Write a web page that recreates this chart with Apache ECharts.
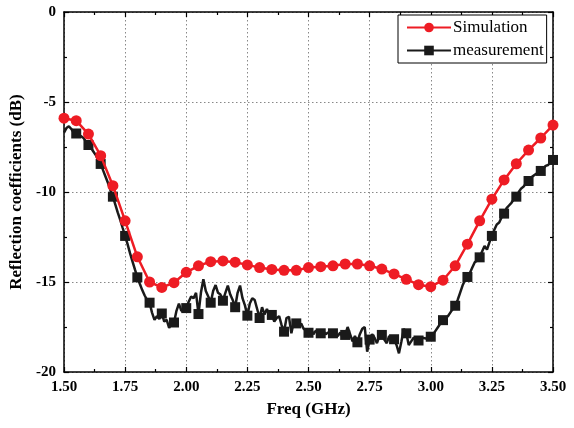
<!DOCTYPE html>
<html>
<head>
<meta charset="utf-8">
<script src="https://cdn.jsdelivr.net/npm/echarts@6/dist/echarts.min.js"></script>
<style>html,body{margin:0;padding:0;background:#fff}#c{width:574px;height:428px}</style>
</head>
<body>
<div id="c"></div>
<script>
// Simulation: 1.50 .. 3.50 GHz, step 0.05
var simFreq = [1.50,1.55,1.60,1.65,1.70,1.75,1.80,1.85,1.90,1.95,2.00,2.05,2.10,2.15,2.20,2.25,2.30,2.35,2.40,2.45,2.50,2.55,2.60,2.65,2.70,2.75,2.80,2.85,2.90,2.95,3.00,3.05,3.10,3.15,3.20,3.25,3.30,3.35,3.40,3.45,3.50];
var simValues = [-5.9,-6.04,-6.78,-7.98,-9.65,-11.6,-13.6,-15.0,-15.3,-15.04,-14.46,-14.1,-13.87,-13.83,-13.9,-14.05,-14.2,-14.3,-14.35,-14.35,-14.2,-14.15,-14.1,-14.0,-14.0,-14.1,-14.28,-14.55,-14.85,-15.15,-15.26,-14.9,-14.1,-12.9,-11.6,-10.4,-9.33,-8.43,-7.67,-7.0,-6.28];

// Measurement: 1.50 .. 3.50 GHz, step 0.01 (markers every 0.05 from 1.55)
var measStart = 1.50, measStep = 0.01, measMarkerEvery = 5;
var measValues = [
-6.7,-6.45,-6.35,-6.5,-6.7,-6.75,
-6.85,-6.9,-7.0,-7.2,-7.39,
-7.55,-7.75,-7.95,-8.2,-8.44,
-8.8,-9.15,-9.5,-9.9,-10.26,
-10.7,-11.15,-11.55,-12.0,-12.44,
-12.9,-13.4,-13.85,-14.3,-14.74,
-15.1,-15.45,-15.75,-16.0,-16.15,
-16.7,-17.1,-16.9,-17.05,-16.75,
-17.2,-17.1,-17.55,-17.3,-17.25,
-16.6,-16.2,-16.6,-16.55,-16.45,
-16.1,-15.8,-15.9,-15.6,-16.78,
-15.6,-14.85,-15.5,-15.8,-16.15,
-15.5,-15.17,-15.6,-15.7,-16.04,
-15.6,-15.2,-15.7,-16.0,-16.4,
-15.6,-15.2,-15.9,-16.3,-16.87,
-16.2,-15.9,-16.0,-16.5,-17.0,
-16.4,-16.8,-16.5,-16.9,-16.83,
-17.2,-17.0,-16.9,-17.4,-17.76,
-17.0,-16.93,-17.85,-17.2,-17.3,
-17.5,-17.3,-17.6,-17.7,-17.82,
-17.6,-17.9,-17.7,-17.8,-17.85,
-17.7,-17.9,-17.8,-18.0,-17.85,
-17.9,-18.0,-17.8,-18.1,-17.94,
-17.5,-17.9,-18.3,-18.0,-18.35,
-17.9,-17.6,-17.5,-18.87,-18.2,
-17.9,-18.1,-18.4,-18.0,-17.94,
-18.2,-18.4,-18.0,-18.3,-18.18,
-18.5,-18.96,-18.3,-17.6,-17.85,
-18.5,-18.3,-18.1,-18.2,-18.25,
-18.2,-18.1,-18.15,-18.0,-18.04,
-17.9,-17.7,-17.5,-17.3,-17.12,
-17.0,-16.9,-16.7,-16.5,-16.32,
-16.0,-15.6,-15.2,-14.9,-14.72,
-14.5,-14.2,-13.9,-13.8,-13.63,
-13.3,-13.0,-13.2,-12.8,-12.44,
-12.1,-11.8,-11.7,-11.4,-11.2,
-10.9,-10.75,-10.6,-10.4,-10.26,
-10.0,-9.8,-9.7,-9.5,-9.39,
-9.2,-9.1,-9.0,-8.95,-8.83,
-8.7,-8.55,-8.5,-8.35,-8.22
];

var xTicks = [1.50,1.75,2.00,2.25,2.50,2.75,3.00,3.25,3.50];
var yTicks = [0,-5,-10,-15,-20];
var seriesNames = ['Simulation','measurement'];

var simData = simFreq.map(function(f,i){return [f, simValues[i]];});
var measData = measValues.map(function(v,i){
  var f = +(measStart + i*measStep).toFixed(2);
  var item = {value:[f, v]};
  if (i === 0 || i % measMarkerEvery !== 0) item.symbol = 'none';
  return item;
});

var font = 'Liberation Serif, Times New Roman, serif';
var chart = echarts.init(document.getElementById('c'), null, {renderer:'canvas'});

function axisCommon(show){
  return {
    axisLine:{show:true, onZero:false, lineStyle:{color:'#000', width:1.5}},
    axisTick:{show:true, inside:true, length:5, lineStyle:{color:'#000', width:1.2}},
    minorTick:{show:true, splitNumber:2, length:3, lineStyle:{color:'#000', width:1.2}},
    splitLine:{show:false},
    axisLabel:{show:show}
  };
}

var option = {
  backgroundColor:'#fff',
  animation:false,
  textStyle:{fontFamily:font},
  grid:{left:64, right:21, top:12, bottom:56, containLabel:false},
  legend:{
    orient:'vertical',
    left:398, top:15,
    data:seriesNames,
    borderColor:'#000', borderWidth:1, padding:[4,3,4,8],
    itemWidth:44, itemHeight:12, itemGap:6,
    textStyle:{fontFamily:font, fontSize:17, color:'#000', padding:[0,0,0,-3]},
    backgroundColor:'#fff'
  },
  xAxis:[
    Object.assign(axisCommon(true), {
      type:'value', position:'bottom', min:1.5, max:3.5, interval:0.25,
      name:'Freq (GHz)', nameLocation:'middle', nameGap:29,
      nameTextStyle:{fontFamily:font, fontSize:17, fontWeight:'bold', color:'#000'},
      axisLabel:{show:true, margin:8, fontFamily:font, fontSize:15, fontWeight:'bold', color:'#000',
        formatter:function(v){return v.toFixed(2);}},
      splitLine:{show:true, lineStyle:{color:'#888', width:1, type:[1.5,2.5]}}
    }),
    Object.assign(axisCommon(false), {
      type:'value', position:'top', min:1.5, max:3.5, interval:0.25
    })
  ],
  yAxis:[
    Object.assign(axisCommon(true), {
      type:'value', position:'left', min:-20, max:0, interval:5,
      name:'Reflection coefficients (dB)', nameLocation:'middle', nameGap:32,
      nameTextStyle:{fontFamily:font, fontSize:17, fontWeight:'bold', color:'#000'},
      axisLabel:{show:true, margin:8, fontFamily:font, fontSize:15, fontWeight:'bold', color:'#000'},
      splitLine:{show:true, lineStyle:{color:'#888', width:1, type:[1.5,2.5]}}
    }),
    Object.assign(axisCommon(false), {
      type:'value', position:'right', min:-20, max:0, interval:5
    })
  ],
  series:[
    {
      name:seriesNames[0], type:'line', data:simData,
      xAxisIndex:0, yAxisIndex:0,
      symbol:'circle', symbolSize:11, showAllSymbol:true,
      lineStyle:{color:'#ee1c24', width:2.5},
      itemStyle:{color:'#ee1c24'},
      z:3
    },
    {
      name:seriesNames[1], type:'line', data:measData,
      xAxisIndex:0, yAxisIndex:0,
      symbol:'rect', symbolSize:10, showAllSymbol:true,
      lineStyle:{color:'#1a1a1a', width:2.5},
      itemStyle:{color:'#1a1a1a'},
      z:2
    }
  ]
};
chart.setOption(option);
</script>
</body>
</html>
